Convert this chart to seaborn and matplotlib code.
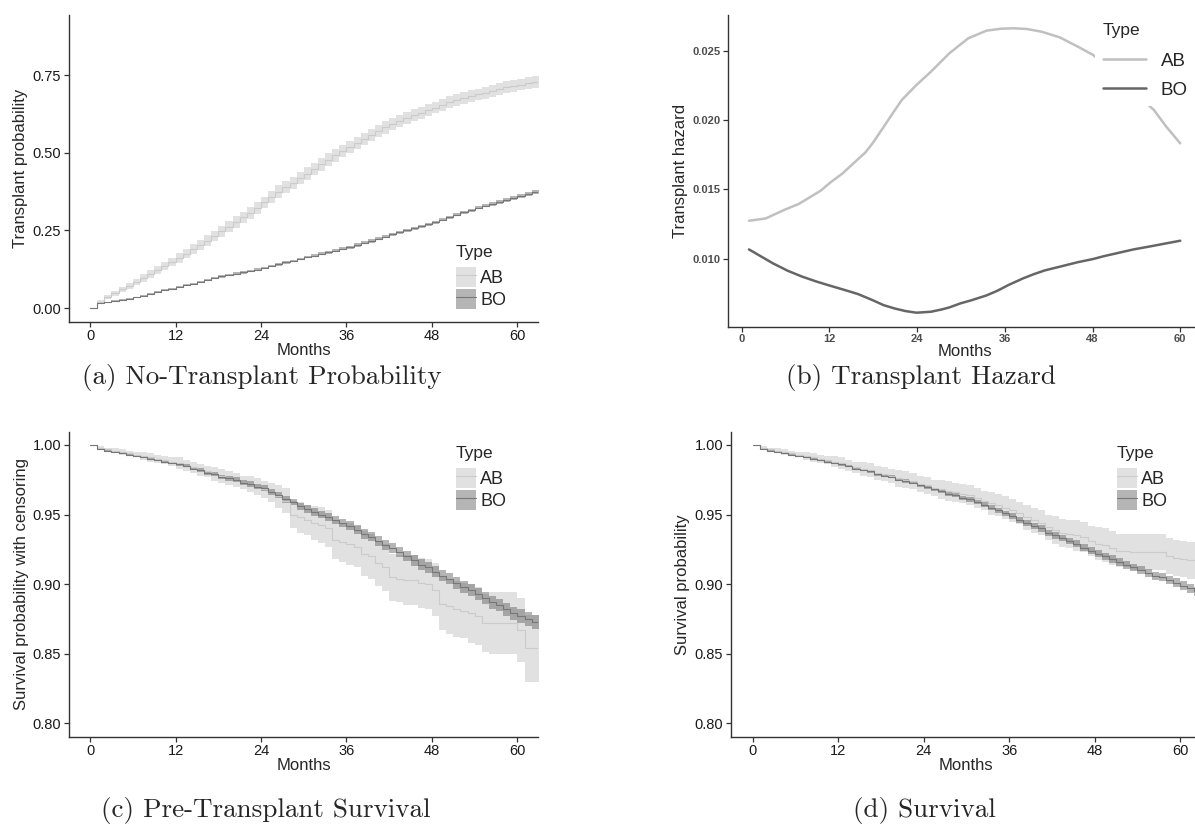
import matplotlib
matplotlib.use("Agg")
import matplotlib.pyplot as plt
from matplotlib.patches import Patch
from matplotlib.lines import Line2D
from matplotlib.legend_handler import HandlerTuple
import pandas as pd
import seaborn as sns

sns.set_style("white")
plt.rcParams["font.family"] = ["Liberation Sans", "DejaVu Sans"]

W, H = 1195, 834

types = ["AB", "BO"]
months = list(range(64))
month_ticks = [0, 12, 24, 36, 48, 60]

# (a) transplant probability, monthly step estimates and CI half widths
tx_ab = [0, .020, .035, .048, .060, .071, .084, .097, .109, .122, .135, .148,
         .161, .175, .189, .203, .217, .232, .247, .262, .277, .292, .307, .323,
         .340, .357, .375, .390, .403, .418, .433, .448, .463, .478, .492, .506,
         .519, .532, .545, .558, .571, .582, .593, .603, .612, .621, .629, .637,
         .646, .655, .663, .670, .676, .682, .688, .694, .700, .706, .711, .716,
         .720, .724, .727, .730]
tx_ab_hw = [0, .006, .007, .008, .009, .010, .011, .012, .012, .013, .014, .014,
            .015, .015, .016, .016, .017, .017, .017, .018, .018, .018, .019, .019,
            .019, .019, .020, .020, .020, .020, .020, .020, .020, .020, .020, .020,
            .020, .020, .020, .020, .020, .020, .020, .020, .020, .019, .019, .019,
            .019, .019, .019, .019, .019, .019, .019, .019, .019, .019, .019, .019,
            .019, .019, .019, .019]
tx_bo = [0, .016, .019, .023, .027, .030, .034, .040, .045, .051, .057, .062,
         .068, .074, .079, .085, .091, .096, .102, .106, .111, .115, .120, .124,
         .129, .135, .141, .147, .152, .158, .164, .169, .175, .180, .185, .191,
         .196, .203, .210, .216, .223, .230, .237, .244, .250, .257, .264, .270,
         .277, .285, .292, .300, .308, .315, .323, .329, .335, .341, .348, .354,
         .360, .367, .374, .380]
tx_bo_hw = [0, .002, .002, .002, .003, .003, .003, .003, .003, .003, .003, .003,
            .003, .003, .003, .003, .004, .004, .004, .004, .004, .004, .004, .004,
            .004, .004, .004, .004, .004, .004, .004, .005, .005, .005, .005, .005,
            .005, .005, .005, .005, .005, .005, .005, .005, .005, .005, .005, .005,
            .005, .005, .005, .005, .005, .005, .005, .005, .006, .006, .006, .006,
            .006, .006, .006, .006]

# (b) smoothed transplant hazard
hz_ab_t = [1.0, 3.3, 5.8, 7.8, 9.3, 10.8, 12.1, 13.8, 15.3, 16.9, 17.9, 19.4,
           20.6, 21.9, 23.9, 25.9, 28.4, 31.0, 33.5, 35.5, 37.2, 39.0, 41.0, 43.5,
           46.0, 48.1, 56.4, 58.1, 60.0]
hz_ab = [.01274, .01291, .01352, .01395, .01443, .01491, .01549, .01616, .01689,
         .01766, .01833, .01950, .02045, .02146, .02254, .02351, .02483, .02592,
         .02647, .02661, .02664, .02659, .02640, .02599, .02531, .02471, .02074,
         .01953, .01833]
hz_bo_t = [1.0, 4.3, 6.3, 8.3, 10.3, 12.1, 14.1, 15.9, 17.9, 19.4, 20.9, 22.4,
           23.9, 25.9, 27.4, 28.4, 29.9, 31.5, 33.5, 35.0, 36.5, 38.5, 40.0, 41.5,
           43.5, 46.0, 48.1, 49.6, 51.6, 53.6, 56.1, 58.1, 60.0]
hz_bo = [.01067, .00966, .00913, .00870, .00834, .00805, .00774, .00745, .00701,
         .00665, .00641, .00622, .00610, .00617, .00634, .00648, .00677, .00701,
         .00735, .00769, .00810, .00858, .00889, .00916, .00942, .00975, .00998,
         .01019, .01043, .01067, .01091, .01111, .01130]

# (c) pre-transplant survival
pre_ab = [1.000, .998, .997, .996, .995, .994, .993, .992, .991, .990, .989, .988,
          .987, .985, .984, .982, .981, .979, .978, .976, .975, .973, .972, .970,
          .968, .966, .963, .960, .950, .948, .946, .944, .9425, .940, .932, .930,
          .929, .927, .922, .920, .915, .912, .905, .904, .903, .903, .901, .900,
          .896, .886, .884, .882, .881, .879, .877, .872, .872, .872, .872, .872,
          .867, .854, .854, .854]
pre_ab_hw = [0, .001, .001, .002, .002, .002, .002, .003, .003, .003, .003, .003,
             .004, .004, .004, .004, .004, .005, .005, .005, .005, .005, .006, .006,
             .006, .007, .008, .009, .010, .011, .011, .012, .013, .013, .014, .014,
             .015, .015, .016, .016, .016, .017, .017, .017, .018, .018, .018, .018,
             .019, .019, .020, .020, .020, .021, .021, .021, .022, .022, .022, .022,
             .023, .024, .024, .024]
pre_bo = [1.000, .997, .996, .995, .994, .993, .992, .991, .990, .989, .988, .987,
          .986, .985, .983, .982, .980, .979, .977, .976, .975, .973, .972, .970,
          .969, .966, .964, .961, .959, .956, .954, .952, .950, .948, .946, .944,
          .942, .939, .936, .934, .931, .928, .926, .923, .920, .917, .914, .912,
          .909, .906, .904, .901, .898, .896, .893, .890, .887, .885, .882, .879,
          .877, .875, .873, .871]
pre_bo_hw = [0, .0005, .0005, .0005, .0006, .0006, .0007, .0007, .0008, .0008, .0009, .0009,
             .0010, .0011, .0012, .0013, .0014, .0015, .0016, .0017, .0018, .0019, .0020, .0020,
             .0021, .0022, .0023, .0024, .0025, .0026, .0027, .0027, .0028, .0029, .0029, .0030,
             .0031, .0032, .0033, .0033, .0034, .0035, .0035, .0036, .0037, .0037, .0038, .0039,
             .0040, .0041, .0041, .0042, .0043, .0043, .0044, .0045, .0045, .0046, .0047, .0047,
             .0048, .0048, .0049, .0049]

# (d) survival
surv_ab = [1.000, .998, .997, .996, .995, .994, .993, .992, .991, .990, .989, .988,
           .987, .985, .984, .983, .982, .980, .979, .978, .976, .975, .974, .972,
           .971, .969, .968, .967, .966, .965, .964, .962, .960, .958, .957, .955,
           .953, .951, .948, .946, .944, .941, .939, .937, .936, .935, .934, .931,
           .929, .928, .926, .924, .924, .923, .923, .923, .923, .923, .920, .919,
           .918, .917, .917, .917]
surv_ab_hw = [0, .001, .001, .002, .002, .002, .002, .003, .003, .003, .003, .004,
              .004, .004, .004, .005, .005, .005, .005, .005, .006, .006, .006, .006,
              .006, .006, .007, .007, .007, .007, .007, .007, .007, .008, .008, .008,
              .008, .008, .009, .009, .009, .009, .010, .010, .010, .011, .011, .011,
              .012, .012, .012, .012, .012, .013, .013, .013, .013, .013, .013, .013,
              .013, .013, .013, .013]
surv_bo = [1.000, .997, .996, .995, .994, .993, .992, .991, .990, .989, .988, .987,
           .986, .985, .983, .982, .981, .979, .978, .977, .975, .974, .973, .971,
           .970, .968, .967, .965, .964, .962, .961, .959, .957, .955, .953, .951,
           .949, .946, .944, .942, .940, .937, .935, .933, .931, .929, .926, .924,
           .922, .920, .918, .916, .914, .912, .910, .908, .906, .905, .903, .901,
           .899, .897, .895, .893]
surv_bo_hw = [0, .0004, .0004, .0005, .0005, .0005, .0006, .0006, .0006, .0007, .0007, .0007,
              .0008, .0008, .0009, .0009, .0010, .0010, .0011, .0011, .0012, .0012, .0013, .0013,
              .0014, .0014, .0015, .0015, .0016, .0016, .0017, .0017, .0018, .0018, .0019, .0019,
              .0020, .0020, .0021, .0021, .0022, .0022, .0023, .0023, .0024, .0024, .0025, .0025,
              .0026, .0026, .0027, .0027, .0028, .0028, .0029, .0029, .0030, .0030, .0030, .0031,
              .0031, .0032, .0032, .0032]

line_col = {"AB": "#cbcbcb", "BO": "#777777"}
fill_col = {"AB": "#bdbdbd", "BO": "#5c5c5c"}
fill_alpha = 0.45
haz_col = {"AB": "#c0c0c0", "BO": "#666666"}


def px_axes(l, r, t, b):
    return fig.add_axes([l / W, 1 - b / H, (r - l) / W, (b - t) / H])


def style_axes(ax, tick_color="#1a1a1a", tick_size=10.5, bold=False):
    sns.despine(ax=ax)
    for s in ("left", "bottom"):
        ax.spines[s].set_color("#333333")
        ax.spines[s].set_linewidth(1.0)
    ax.set_xticks(month_ticks)
    ax.tick_params(axis="both", which="major", length=3.5, width=0.9,
                   color="#333333", labelcolor=tick_color, labelsize=tick_size,
                   pad=2, left=True, bottom=True)
    if bold:
        for lab in ax.get_xticklabels() + ax.get_yticklabels():
            lab.set_fontweight("bold")
    ax.grid(False)


def km_panel(ax, est, hw, ylabel):
    rows = []
    for typ in types:
        for m, e, h in zip(months, est[typ], hw[typ]):
            rows.append({"Months": m, "Type": typ, "est": e,
                         "lo": e - h, "hi": e + h})
    df = pd.DataFrame(rows)
    for typ in types:
        d = df[df["Type"] == typ]
        ax.fill_between(d["Months"], d["lo"], d["hi"], step="post",
                        color=fill_col[typ], alpha=fill_alpha, lw=0)
    sns.lineplot(data=df, x="Months", y="est", hue="Type", palette=line_col,
                 estimator=None, drawstyle="steps-post", linewidth=0.8,
                 legend=False, ax=ax)
    ax.set_xlabel("Months", fontsize=12, labelpad=0)
    ax.set_ylabel(ylabel, fontsize=12, labelpad=3)


def km_legend(ax, x, y):
    handles = [(Patch(facecolor=fill_col[t], alpha=fill_alpha, lw=0),
                Line2D([], [], color=line_col[t], lw=0.8)) for t in types]
    leg = ax.legend(handles, types, handler_map={tuple: HandlerTuple(ndivide=1, pad=0)},
                    title="Type", loc="upper left",
                    bbox_to_anchor=(x / W, 1 - y / H), bbox_transform=fig.transFigure,
                    frameon=False, fontsize=13, title_fontsize=12.5,
                    handlelength=1.1, handleheight=1.33, handletextpad=0.25,
                    labelspacing=0.1, borderpad=0, borderaxespad=0,
                    alignment="left")
    leg._legend_box.sep = 5
    return leg


fig = plt.figure(figsize=(W / 100, H / 100), dpi=100)
fig.patch.set_facecolor("white")

# (a)
ax_a = px_axes(69, 538, 15, 321.7)
km_panel(ax_a, {"AB": tx_ab, "BO": tx_bo}, {"AB": tx_ab_hw, "BO": tx_bo_hw},
         "Transplant probability")
ax_a.set_xlim(-2.95, 62.88)
ax_a.set_ylim(-0.044, 0.944)
ax_a.set_yticks([0, 0.25, 0.5, 0.75])
ax_a.set_yticklabels(["0.00", "0.25", "0.50", "0.75"])
style_axes(ax_a)
km_legend(ax_a, 456, 245)

# (b)
ax_b = px_axes(728.3, 1201.8, 15, 326.7)
haz = pd.DataFrame({"Months": hz_ab_t + hz_bo_t,
                    "hazard": hz_ab + hz_bo,
                    "Type": ["AB"] * len(hz_ab) + ["BO"] * len(hz_bo)})
sns.lineplot(data=haz, x="Months", y="hazard", hue="Type", palette=haz_col,
             estimator=None, linewidth=1.8, ax=ax_b)
ax_b.set_xlim(-1.83, 62.95)
ax_b.set_ylim(0.00509, 0.0276)
ax_b.set_yticks([0.010, 0.015, 0.020, 0.025])
ax_b.set_yticklabels(["0.010", "0.015", "0.020", "0.025"])
ax_b.set_xlabel("Months", fontsize=12, labelpad=0)
ax_b.set_ylabel("Transplant hazard", fontsize=12, labelpad=3)
style_axes(ax_b, tick_color="#4d4d4d", tick_size=8, bold=True)
hl = [Line2D([], [], color=haz_col[t], lw=1.8) for t in types]
leg_b = ax_b.legend(hl, types, title="Type", loc="upper left",
                    bbox_to_anchor=(1095 / W, 1 - 15 / H), bbox_transform=fig.transFigure,
                    frameon=True, facecolor="white", edgecolor="none", framealpha=1,
                    fontsize=13.5, title_fontsize=12.5, handlelength=2.3,
                    handletextpad=0.8, labelspacing=0.62, borderpad=0.4,
                    borderaxespad=0, alignment="left")
leg_b._legend_box.sep = 11
leg_b.get_frame().set_boxstyle("square", pad=0)

# (c)
ax_c = px_axes(69, 538, 432, 736.7)
km_panel(ax_c, {"AB": pre_ab, "BO": pre_bo}, {"AB": pre_ab_hw, "BO": pre_bo_hw},
         "Survival probability with censoring")
ax_c.set_xlim(-2.95, 62.88)
ax_c.set_ylim(0.7904, 1.0093)
ax_c.set_yticks([0.80, 0.85, 0.90, 0.95, 1.00])
ax_c.set_yticklabels(["0.80", "0.85", "0.90", "0.95", "1.00"])
style_axes(ax_c)
km_legend(ax_c, 456, 446)

# (d)
ax_d = px_axes(730.7, 1201.6, 432, 736.7)
km_panel(ax_d, {"AB": surv_ab, "BO": surv_bo}, {"AB": surv_ab_hw, "BO": surv_bo_hw},
         "Survival probability")
ax_d.set_xlim(-3.09, 63.0)
ax_d.set_ylim(0.7904, 1.0093)
ax_d.set_yticks([0.80, 0.85, 0.90, 0.95, 1.00])
ax_d.set_yticklabels(["0.80", "0.85", "0.90", "0.95", "1.00"])
style_axes(ax_d)
km_legend(ax_d, 1117, 446)

captions = [("(a) No-Transplant Probability", 262, 377),
            ("(b) Transplant Hazard", 921, 377),
            ("(c) Pre-Transplant Survival", 266, 811),
            ("(d) Survival", 924, 811)]
for txt, cx, cy in captions:
    fig.text(cx / W, 1 - cy / H, txt, ha="center", va="center",
             fontsize=19.5, family="cmr10")

fig.savefig("out.png", dpi=100, facecolor="white")
